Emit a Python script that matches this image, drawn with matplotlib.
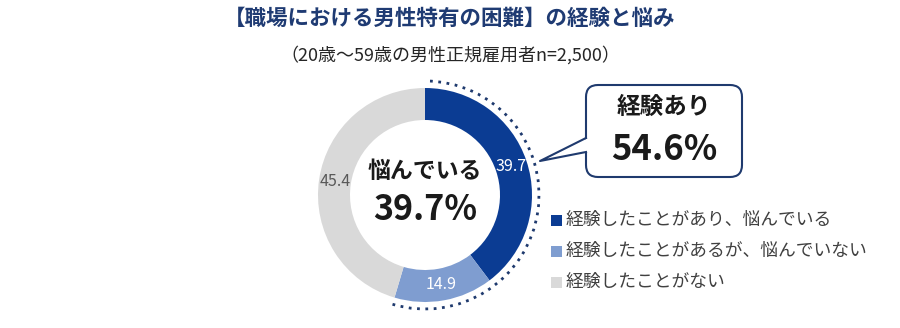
import matplotlib
matplotlib.use("Agg")
import matplotlib.pyplot as plt
from matplotlib.patches import Arc, FancyBboxPatch, Polygon, Rectangle
import numpy as np

plt.rcParams['font.family'] = ['Noto Sans CJK JP', 'DejaVu Sans']

title = "【職場における男性特有の困難】の経験と悩み"
subtitle = "（20歳〜59歳の男性正規雇用者n=2,500）"
categories = ["経験したことがあり、悩んでいる", "経験したことがあるが、悩んでいない", "経験したことがない"]
values = [39.7, 14.9, 45.4]
colors = ["#0b3c93", "#7f9dd0", "#d9d9d9"]
label_colors = ["white", "white", "#595959"]
center_label = "悩んでいる"
center_value = "39.7%"
callout_label = "経験あり"
callout_value = "54.6%"

W, H = 900, 328
fig = plt.figure(figsize=(W / 100, H / 100), dpi=100)
ax = fig.add_axes([0, 0, 1, 1])

def py(y):
    return H - y

cx, cy, R, ring = 425, py(195), 107, 32
wedges, _ = ax.pie(values, colors=colors, startangle=90, counterclock=False,
                   center=(cx, cy), radius=R, frame=True,
                   wedgeprops=dict(width=ring, edgecolor='none'))
ax.set_xlim(0, W)
ax.set_ylim(0, H)
ax.set_aspect('equal')
ax.axis('off')

cum = 0
label_r = R - ring / 2
for v, lc in zip(values, label_colors):
    mid = 90 - (cum + v / 2) * 3.6
    cum += v
    ang = np.deg2rad(mid)
    ax.text(cx + label_r * np.cos(ang), cy + label_r * np.sin(ang), f"{v:.1f}",
            ha='center', va='center', fontsize=11.5, color=lc)

# dotted arc over "experienced" share
exp_share = values[0] + values[1]
arc = Arc((cx, cy), 2 * (R + 7), 2 * (R + 7), theta1=90 - exp_share * 3.6, theta2=90,
          color="#1f3a6e", linestyle=(0, (1, 2)), linewidth=2.0)
ax.add_patch(arc)

# center text
ax.text(cx, py(172), center_label, ha='center', va='center', fontsize=16.5,
        fontweight='bold', color='#1a1a1a')
ax.text(cx, py(210), center_value, ha='center', va='center', fontsize=24.5,
        fontweight='bold', color='#1a1a1a')

# callout box
bx0, bx1, by0, by1 = 586, 742, 85, 177
box = FancyBboxPatch((bx0, py(by1)), bx1 - bx0, by1 - by0,
                     boxstyle="round,pad=0,rounding_size=12",
                     facecolor='white', edgecolor='#1f3a6e', linewidth=1.5)
ax.add_patch(box)
tip = (540, py(161))
p1 = (bx0, py(138))
p2 = (bx0, py(152))
ax.add_patch(Polygon([tip, (p1[0] + 2, p1[1]), (p2[0] + 2, p2[1])], closed=True,
                     facecolor='white', edgecolor='none', zorder=3))
ax.plot([p1[0], tip[0], p2[0]], [p1[1], tip[1], p2[1]], color='#1f3a6e', lw=1.5, zorder=4)
ax.text((bx0 + bx1) / 2, py(107), callout_label, ha='center', va='center',
        fontsize=17, fontweight='bold', color='#1a1a1a', zorder=5)
ax.text((bx0 + bx1) / 2, py(149), callout_value, ha='center', va='center',
        fontsize=25, fontweight='bold', color='#1a1a1a', zorder=5)

# legend
for i, (lab, c) in enumerate(zip(categories, colors)):
    yy = py(220 + 31 * i)
    ax.add_patch(Rectangle((551, yy - 5.5), 11, 11, facecolor=c, edgecolor='none'))
    ax.text(566, yy, lab, ha='left', va='center', fontsize=12.8, color='#404040')

# titles
ax.text(450, py(18), title, ha='center', va='center', fontsize=15.5,
        fontweight='bold', color='#1f3b73')
ax.text(450, py(55), subtitle, ha='center', va='center', fontsize=13, color='#262626')

fig.savefig("out.png", dpi=100)
